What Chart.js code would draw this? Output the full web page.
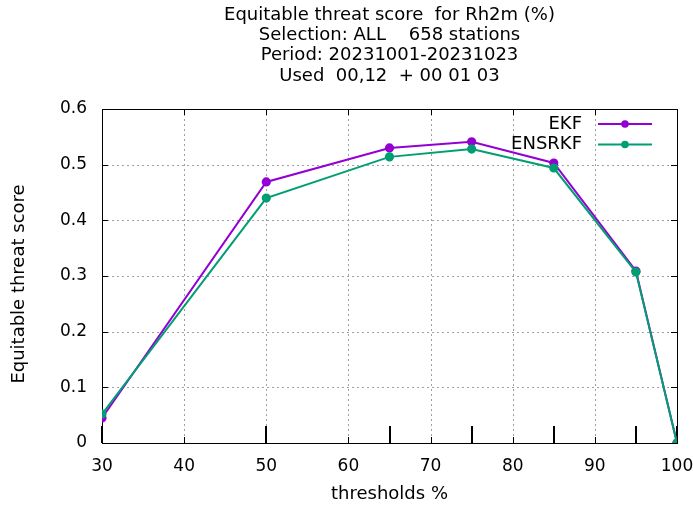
<!DOCTYPE html>
<html>
<head>
<meta charset="utf-8">
<script src="https://cdn.jsdelivr.net/npm/chart.js@4/dist/chart.umd.min.js"></script>
<style>
html,body{margin:0;padding:0;background:#fff;}
#wrap{width:693px;height:512px;position:relative;}
</style>
</head>
<body>
<div id="wrap"><canvas id="c" width="693" height="512"></canvas></div>
<script>
const thresholds = [30, 50, 65, 75, 85, 95, 100];
const ekf = [0.045, 0.469, 0.530, 0.541, 0.503, 0.309, 0.0];
const ensrkf = [0.052, 0.440, 0.514, 0.528, 0.494, 0.307, 0.0];
const seriesNames = ['EKF', 'ENSRKF'];
const titleLines = ['Equitable threat score  for Rh2m (%)', 'Selection: ALL    658 stations', 'Period: 20231001-20231023', 'Used  00,12  + 00 01 03'];
const xTitle = 'thresholds %';
const yTitle = 'Equitable threat score';

const FONT = 'DejaVu Sans';
const colors = ['#9400d3', '#009e73'];

function pts(vals){ return thresholds.map((t,i)=>({x:t, y:vals[i]})); }

const decor = {
  id: 'decor',
  beforeDatasetsDraw(chart){
    const ctx = chart.ctx, a = chart.chartArea;
    const xs = chart.scales.x, ys = chart.scales.y;
    ctx.save();
    ctx.strokeStyle = '#a0a0a0'; ctx.lineWidth = 1; ctx.setLineDash([2,3]);
    xs.ticks.forEach(t=>{
      const px = Math.round(xs.getPixelForValue(t.value))+0.5;
      if (px <= a.left+1 || px >= a.right-1) return;
      ctx.beginPath(); ctx.moveTo(px, a.top); ctx.lineTo(px, a.bottom); ctx.stroke();
    });
    ys.ticks.forEach(t=>{
      const py = Math.round(ys.getPixelForValue(t.value))+0.5;
      if (py <= a.top+1 || py >= a.bottom-1) return;
      ctx.beginPath(); ctx.moveTo(a.left, py); ctx.lineTo(a.right, py); ctx.stroke();
    });
    ctx.setLineDash([]);
    ctx.strokeStyle = '#000'; ctx.lineWidth = 1;
    ctx.strokeRect(Math.round(a.left)+0.5, Math.round(a.top)+0.5, Math.round(a.right-a.left), Math.round(a.bottom-a.top));
    const tl = 6;
    xs.ticks.forEach(t=>{
      const px = Math.round(xs.getPixelForValue(t.value))+0.5;
      ctx.beginPath(); ctx.moveTo(px, a.bottom); ctx.lineTo(px, a.bottom-tl);
      ctx.moveTo(px, a.top); ctx.lineTo(px, a.top+tl); ctx.stroke();
    });
    ys.ticks.forEach(t=>{
      const py = Math.round(ys.getPixelForValue(t.value))+0.5;
      ctx.beginPath(); ctx.moveTo(a.left, py); ctx.lineTo(a.left+tl, py);
      ctx.moveTo(a.right, py); ctx.lineTo(a.right-tl, py); ctx.stroke();
    });
    ctx.lineWidth = 2;
    thresholds.forEach(t=>{
      const px = Math.round(xs.getPixelForValue(t));
      ctx.beginPath(); ctx.moveTo(px, a.bottom); ctx.lineTo(px, a.bottom-17); ctx.stroke();
    });
    ctx.restore();
  },
  afterDraw(chart){
    const ctx = chart.ctx, a = chart.chartArea;
    ctx.save();
    ctx.fillStyle = '#000';
    ctx.font = '18px "' + FONT + '"';
    ctx.textAlign = 'center'; ctx.textBaseline = 'middle';
    const cx = (a.left + a.right)/2;
    titleLines.forEach((l,i)=> ctx.fillText(l, cx, 15 + i*20.3));
    ctx.fillText(xTitle, cx, 494);
    ctx.save();
    ctx.translate(19, 284);
    ctx.rotate(-Math.PI/2);
    ctx.fillText(yTitle, 0, 0);
    ctx.restore();
    chart.data.datasets.forEach((ds,i)=>{
      const y = 124 + i*20.5;
      ctx.textAlign = 'right';
      ctx.fillStyle = '#000';
      ctx.fillText(ds.label, 582, y);
      ctx.strokeStyle = ds.borderColor; ctx.lineWidth = 2;
      ctx.beginPath(); ctx.moveTo(598, y); ctx.lineTo(652, y); ctx.stroke();
      ctx.fillStyle = ds.borderColor;
      ctx.beginPath(); ctx.arc(625, y, 3.8, 0, Math.PI*2); ctx.fill();
    });
    ctx.restore();
  }
};

new Chart(document.getElementById('c'), {
  type: 'line',
  data: {
    datasets: [
      {label: seriesNames[0], data: pts(ekf), borderColor: colors[0], backgroundColor: colors[0], borderWidth: 2, pointRadius: 3.6, pointHoverRadius: 3.6, tension: 0, order: 1},
      {label: seriesNames[1], data: pts(ensrkf), borderColor: colors[1], backgroundColor: colors[1], borderWidth: 2, pointRadius: 3.6, pointHoverRadius: 3.6, tension: 0, order: 0}
    ]
  },
  options: {
    responsive: false,
    animation: false,
    layout: {padding: {top: 109, right: 16, left: 0, bottom: 0}},
    plugins: {legend: {display: false}, title: {display: false}, tooltip: {enabled: false}},
    scales: {
      x: {
        type: 'linear', min: 30, max: 100,
        grid: {display: false, drawTicks: false}, border: {display: false},
        ticks: {stepSize: 10, padding: 13, color: '#000', font: {family: FONT, size: 17}, maxRotation: 0},
        afterFit(s){ s.height = 69; s.paddingLeft = 0; s.paddingRight = 0; }
      },
      y: {
        min: 0, max: 0.6,
        grid: {display: false, drawTicks: false}, border: {display: false},
        ticks: {stepSize: 0.1, padding: 15, color: '#000', font: {family: FONT, size: 17}, callback: v => (Math.round(v*10)/10).toString()},
        afterFit(s){ s.width = 102; s.paddingTop = 0; s.paddingBottom = 0; }
      }
    }
  },
  plugins: [decor]
});
</script>
</body>
</html>
